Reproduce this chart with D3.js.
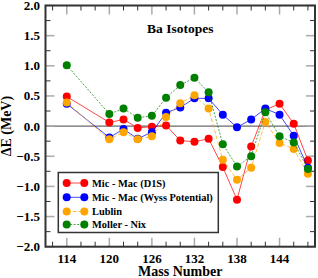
<!DOCTYPE html>
<html>
<head>
<meta charset="utf-8">
<script src="https://cdn.jsdelivr.net/npm/d3@7"></script>
<style>
  body { margin: 0; background: #fff; }
  svg text { font-family: "Liberation Serif", "Times New Roman", serif; font-weight: bold; fill: #000; }
</style>
</head>
<body>
<div id="chart"></div>
<script>
// Ba isotopes: Delta E vs mass number, four model curves

const massNumbers = [114, 120, 122, 124, 126, 128, 130, 132, 134, 136, 138, 140, 142, 144, 146, 148];

const micMacD1S  = [0.49, 0.06, 0.11, -0.03, -0.01, 0.01, -0.24, -0.26, -0.21, -0.68, -1.22, -0.34, 0.27, 0.37, 0.04, -0.57];
const micMacWyss = [0.37, -0.19, -0.05, -0.21, -0.10, 0.22, 0.31, 0.46, 0.46, 0.19, -0.02, 0.11, 0.29, 0.19, -0.16, -0.69];
const lublin     = [0.39, -0.22, -0.10, -0.22, -0.17, 0.15, 0.38, 0.51, 0.29, -0.56, -0.89, -0.69, 0.07, -0.28, -0.38, -0.79];
const mollerNix  = [1.01, 0.20, 0.29, 0.14, 0.17, 0.47, 0.68, 0.80, 0.56, -0.30, -0.67, -0.50, 0.23, -0.17, -0.27, -0.71];

const seriesNames = ["Mic - Mac (D1S)", "Mic - Mac (Wyss Potential)", "Lublin", "Moller - Nix"];
const xTickLabels = [114, 120, 126, 132, 138, 144];
const yTickLabels = [-2.0, -1.5, -1.0, -0.5, 0.0, 0.5, 1.0, 1.5, 2.0];

const series = [
  { name: seriesNames[0], values: micMacD1S,  color: "#ff0000", dash: null },
  { name: seriesNames[1], values: micMacWyss, color: "#0000ff", dash: null },
  { name: seriesNames[2], values: lublin,     color: "#ffa500", dash: "4,2" },
  { name: seriesNames[3], values: mollerNix,  color: "#008000", dash: "2,1.5" }
];

const width = 318, height = 278;
const plot = { left: 45.5, right: 315, top: 5.5, bottom: 246.7 };

const svg = d3.select("#chart").append("svg")
  .attr("width", width)
  .attr("height", height);

const x = d3.scaleLinear().domain([111, 149]).range([plot.left, plot.right]);
const y = d3.scaleLinear().domain([-2, 2]).range([plot.bottom, plot.top]);

// zero line
svg.append("line")
  .attr("x1", plot.left).attr("x2", plot.right)
  .attr("y1", y(0)).attr("y2", y(0))
  .attr("stroke", "#444").attr("stroke-width", 1);

// inward ticks on all four sides
const xMinor = d3.range(112, 149, 2);
const yMinor = d3.range(-2, 2.001, 0.25);
const isMajorX = v => xTickLabels.includes(v);
const isMajorY = v => Math.abs(v * 2 - Math.round(v * 2)) < 1e-6;

const ticks = svg.append("g");
xMinor.forEach(v => {
  const len = isMajorX(v) ? 9 : 5;
  const col = isMajorX(v) ? "#aaa" : "#333";
  const sw = isMajorX(v) ? 1.5 : 1;
  ticks.append("line").attr("x1", x(v)).attr("x2", x(v))
    .attr("y1", plot.bottom).attr("y2", plot.bottom - len)
    .attr("stroke", col).attr("stroke-width", sw);
  ticks.append("line").attr("x1", x(v)).attr("x2", x(v))
    .attr("y1", plot.top).attr("y2", plot.top + len)
    .attr("stroke", col).attr("stroke-width", sw);
});
yMinor.forEach(v => {
  const len = isMajorY(v) ? 9 : 5;
  const col = isMajorY(v) ? "#aaa" : "#333";
  const sw = isMajorY(v) ? 1.5 : 1;
  ticks.append("line").attr("y1", y(v)).attr("y2", y(v))
    .attr("x1", plot.left).attr("x2", plot.left + len)
    .attr("stroke", col).attr("stroke-width", sw);
  ticks.append("line").attr("y1", y(v)).attr("y2", y(v))
    .attr("x1", plot.right).attr("x2", plot.right - len)
    .attr("stroke", col).attr("stroke-width", sw);
});

// series lines and markers
const line = d3.line()
  .x((d, i) => x(massNumbers[i]))
  .y(d => y(d));

series.forEach(s => {
  const g = svg.append("g");
  g.append("path")
    .attr("d", line(s.values))
    .attr("fill", "none")
    .attr("stroke", s.color)
    .attr("stroke-width", 0.9)
    .attr("stroke-opacity", 0.8)
    .attr("stroke-dasharray", s.dash);
  g.selectAll("circle")
    .data(s.values)
    .enter().append("circle")
    .attr("cx", (d, i) => x(massNumbers[i]))
    .attr("cy", d => y(d))
    .attr("r", 4)
    .attr("fill", s.color);
});

// frame
svg.append("rect")
  .attr("x", plot.left).attr("y", plot.top)
  .attr("width", plot.right - plot.left)
  .attr("height", plot.bottom - plot.top)
  .attr("fill", "none")
  .attr("stroke", "#333").attr("stroke-width", 2);

// tick labels
svg.selectAll(".xlabel")
  .data(xTickLabels)
  .enter().append("text")
  .attr("class", "xlabel")
  .attr("x", d => x(d))
  .attr("y", 263)
  .attr("text-anchor", "middle")
  .attr("font-size", 13)
  .text(d => d);

svg.selectAll(".ylabel")
  .data(yTickLabels)
  .enter().append("text")
  .attr("class", "ylabel")
  .attr("x", 40)
  .attr("y", d => y(d) + 4.5)
  .attr("text-anchor", "end")
  .attr("font-size", 13)
  .text(d => d3.format(".1f")(d));

// axis titles
svg.append("text")
  .attr("x", (plot.left + plot.right) / 2)
  .attr("y", 276)
  .attr("text-anchor", "middle")
  .attr("font-size", 14)
  .text("Mass Number");

svg.append("text")
  .attr("transform", `translate(11,${(plot.top + plot.bottom) / 2}) rotate(-90)`)
  .attr("text-anchor", "middle")
  .attr("font-size", 14)
  .text("ΔE (MeV)");

svg.append("text")
  .attr("x", 147)
  .attr("y", 33)
  .attr("font-size", 13.5)
  .text("Ba Isotopes");

// legend
const legend = svg.append("g");
legend.append("rect")
  .attr("x", 58.3).attr("y", 172.5)
  .attr("width", 160).attr("height", 60)
  .attr("fill", "#fff")
  .attr("stroke", "#333").attr("stroke-width", 1.5);

const rowY = [183, 197.3, 211.5, 224.5];
series.forEach((s, i) => {
  const row = legend.append("g");
  row.append("line")
    .attr("x1", 66.7).attr("x2", 84.3)
    .attr("y1", rowY[i]).attr("y2", rowY[i])
    .attr("stroke", s.color).attr("stroke-width", 0.9)
    .attr("stroke-opacity", 0.8)
    .attr("stroke-dasharray", s.dash);
  [66.7, 84.3].forEach(cx => {
    row.append("circle").attr("cx", cx).attr("cy", rowY[i]).attr("r", 4).attr("fill", s.color);
  });
  row.append("text")
    .attr("x", 92)
    .attr("y", rowY[i] + 3.5)
    .attr("font-size", 10.4)
    .text(s.name);
});
</script>
</body>
</html>
